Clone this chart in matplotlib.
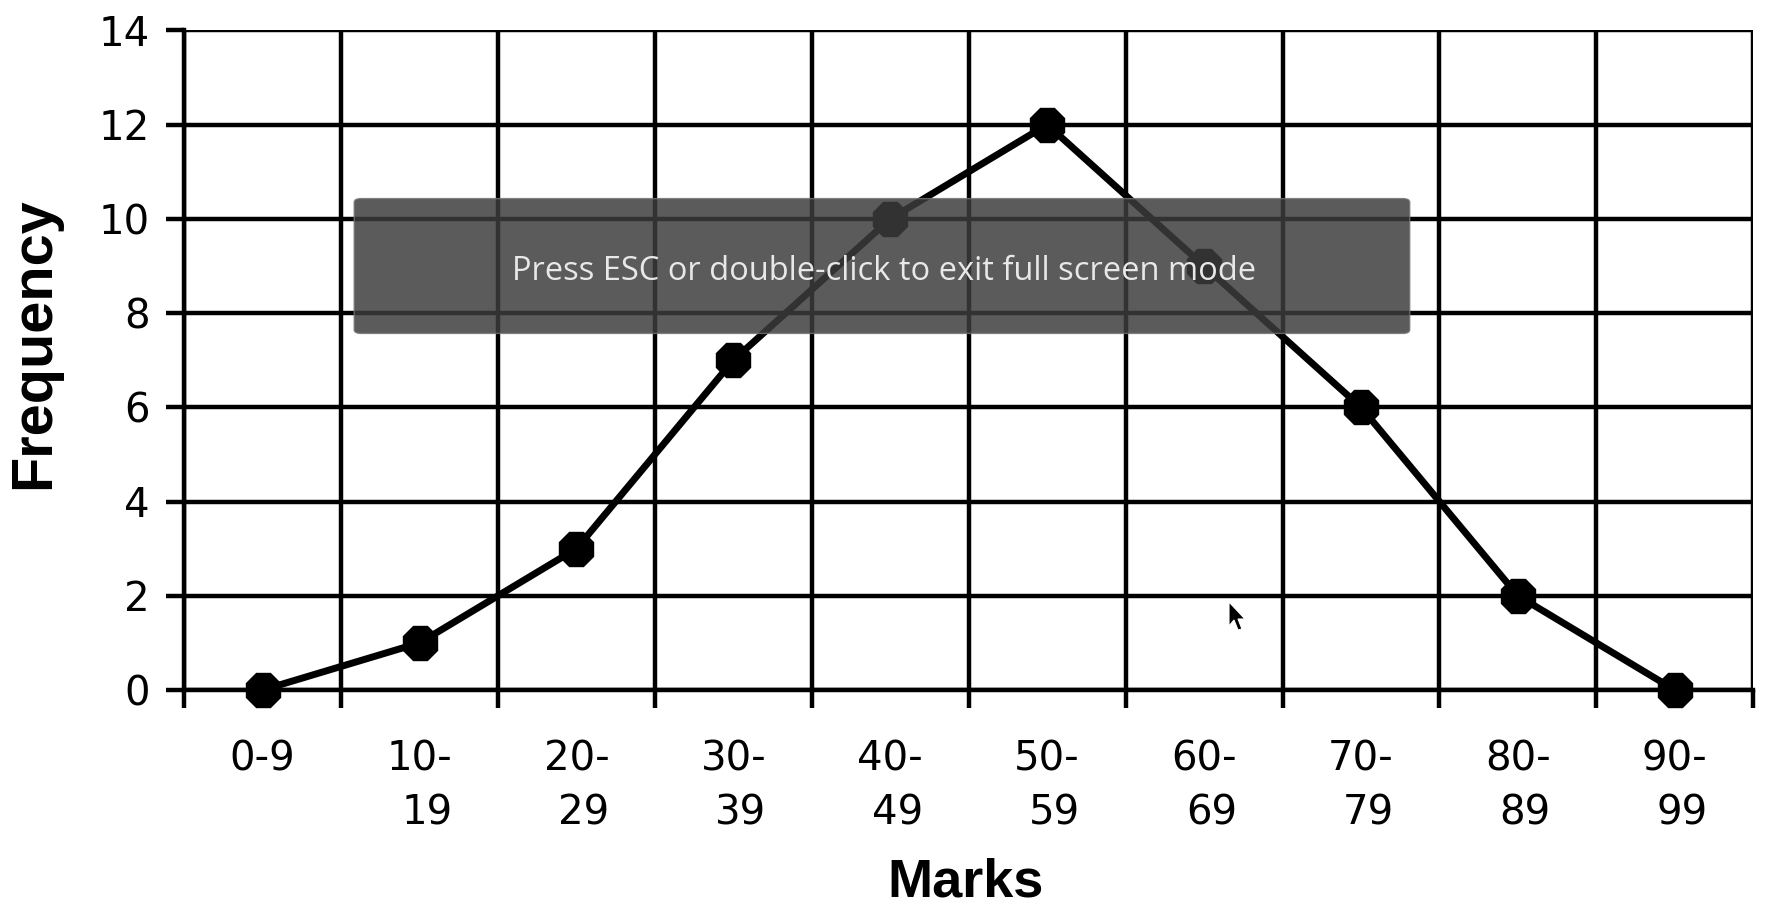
import matplotlib
matplotlib.use('Agg')
import matplotlib.pyplot as plt
from matplotlib.patches import FancyBboxPatch, Polygon
import numpy as np

plt.rcParams.update({'font.family': 'DejaVu Sans'})

# class intervals and their frequencies
marks = ['0-9', '10-\n19', '20-\n29', '30-\n39', '40-\n49', '50-\n59',
         '60-\n69', '70-\n79', '80-\n89', '90-\n99']
frequency = [0, 1, 3, 7, 10, 12, 9, 6, 2, 0]
yticks = [0, 2, 4, 6, 8, 10, 12, 14]

fig = plt.figure(figsize=(17.71, 9.11), dpi=100)
ax = fig.add_axes([0.104, 0.2426, 0.886, 0.724])

x = np.arange(len(marks))
ax.plot(x, frequency, color='black', lw=5.0, marker='8', ms=27,
        markerfacecolor='black', markeredgecolor='black', zorder=3, clip_on=False)

ax.set_xlim(-0.5, len(marks) - 0.5)
ax.set_ylim(0, 14)

# labels sit in the middle of each class, grid lines on the class boundaries
ax.set_xticks(x)
ax.set_xticklabels(marks, linespacing=1.45, va='top', multialignment='right')
ax.set_xticks(np.arange(len(marks) + 1) - 0.5, minor=True)
ax.tick_params(axis='x', which='major', length=0, pad=36, labelsize=29)
ax.tick_params(axis='x', which='minor', length=13, width=3.2, direction='out')
ax.set_yticks(yticks)
ax.tick_params(axis='y', length=13, width=3.2, pad=12, labelsize=29)

ax.grid(True, which='minor', axis='x', color='black', lw=3.2)
ax.grid(True, which='major', axis='y', color='black', lw=3.2)
ax.set_axisbelow(True)
for side in ['left', 'bottom', 'right', 'top']:
    ax.spines[side].set_linewidth(3.2)
ax.spines['top'].set_visible(False)
ax.spines['right'].set_visible(False)

ax.set_xlabel('Marks', fontsize=39, fontweight='bold', family='Liberation Sans', va='center')
ax.set_ylabel('Frequency', fontsize=41.5, fontweight='bold', family='Liberation Sans', va='center')
ax.xaxis.set_label_coords(0.498, -0.292)
ax.yaxis.set_label_coords(-0.0955, 0.526)

# browser full screen notice on top of the chart
box = FancyBboxPatch((0.200, 0.634), 0.596, 0.148, transform=fig.transFigure,
                     boxstyle='round,pad=0,rounding_size=0.004',
                     facecolor=(0.235, 0.235, 0.235), edgecolor=(0.45, 0.45, 0.45),
                     lw=1.0, alpha=0.84, zorder=10)
fig.patches.append(box)
fig.text(0.499, 0.7025, 'Press ESC or double-click to exit full screen mode',
         ha='center', va='center', color='#e8e8e8', fontsize=23.5,
         family='Open Sans', zorder=11)

# mouse pointer
cx, cy = 1229 / 1771, 1 - 602 / 911
w, h = 1 / 1771, 1 / 911
arrow = [(0, 0), (0, -24), (5, -18), (9, -28), (13, -27), (9, -17), (16, -17)]
fig.patches.append(Polygon([(cx + px * w, cy + py * h) for px, py in arrow],
                           closed=True, transform=fig.transFigure,
                           facecolor='black', edgecolor='white', lw=0.8, zorder=12))

fig.savefig('out.png', dpi=100)
